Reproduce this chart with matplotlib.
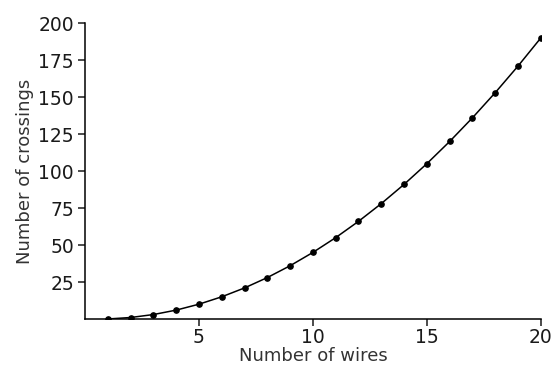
import matplotlib
matplotlib.use("Agg")
import matplotlib.pyplot as plt

# number of wires vs number of crossings
wires = list(range(1, 21))
crossings = [0, 1, 3, 6, 10, 15, 21, 28, 36, 45, 55, 66, 78, 91, 105, 120, 136, 153, 171, 190]
x_ticks = [5, 10, 15, 20]
y_ticks = [25, 50, 75, 100, 125, 150, 175, 200]

plt.rcParams["font.family"] = ["DejaVu Sans"]

fig = plt.figure(figsize=(5.53, 3.73), dpi=100)
ax = fig.add_axes([0.1537, 0.1448, 0.978 - 0.1537, 0.938 - 0.1448])
ax.plot(wires, crossings, color="black", lw=1.1, marker="o", ms=3.8)

ax.set_xlim(0, 20)
ax.set_ylim(0, 200)
ax.set_xticks(x_ticks)
ax.set_yticks(y_ticks)
ax.tick_params(labelsize=13.5, colors="#1a1a1a", length=5, width=1.1)
ax.tick_params(axis="y", pad=3)
ax.tick_params(axis="x", pad=1.5)
ax.spines["top"].set_visible(False)
ax.spines["right"].set_visible(False)
for s in ("left", "bottom"):
    ax.spines[s].set_linewidth(1.1)
ax.set_xlabel("Number of wires", fontsize=13, color="#333333", labelpad=0)
ax.set_ylabel("Number of crossings", fontsize=13, color="#333333", labelpad=3)

fig.savefig("out.png", dpi=100)
